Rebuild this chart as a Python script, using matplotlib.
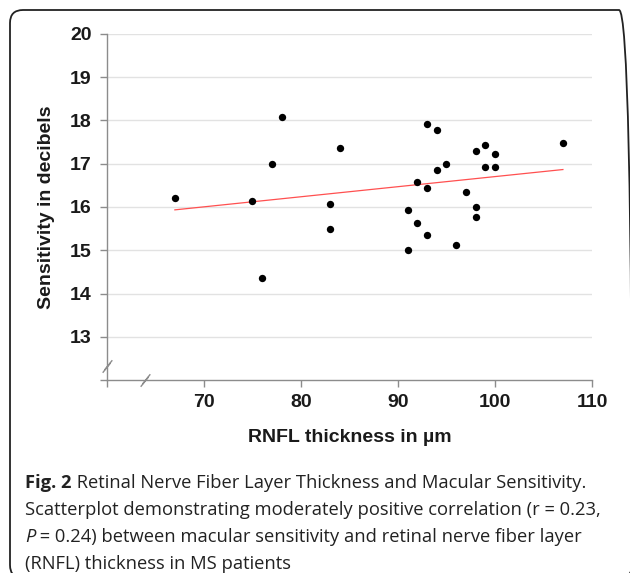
import matplotlib
matplotlib.use('Agg')
import matplotlib.pyplot as plt
import numpy as np
from matplotlib.patches import FancyBboxPatch
from matplotlib.path import Path

# RNFL thickness (um) and macular sensitivity (dB)
rnfl = [67, 75, 76, 77, 78, 83, 83, 84, 91, 91, 92, 92, 93, 93, 93, 94, 94,
        95, 96, 97, 98, 98, 98, 99, 99, 100, 100, 107]
sens = [16.21, 16.13, 14.36, 17.00, 18.07, 16.06, 15.49, 17.36, 15.92, 15.00,
        15.63, 16.57, 15.35, 16.43, 17.92, 17.78, 16.86, 17.00, 15.13, 16.35,
        16.00, 15.78, 17.29, 17.43, 16.93, 17.22, 16.93, 17.49]

xticks = [60, 70, 80, 90, 100, 110]
yticks = [12, 13, 14, 15, 16, 17, 18, 19, 20]

caption = [
    [("Fig. 2", "bold", "normal"),
     (" Retinal Nerve Fiber Layer Thickness and Macular Sensitivity.", "normal", "normal")],
    [("Scatterplot demonstrating moderately positive correlation (r = 0.23,", "normal", "normal")],
    [("P", "normal", "italic"),
     (" = 0.24) between macular sensitivity and retinal nerve fiber layer", "normal", "normal")],
    [("(RNFL) thickness in MS patients", "normal", "normal")],
]

fig = plt.figure(figsize=(6.3, 5.73), dpi=100)
ax = fig.add_axes([0.1698, 0.3368, 0.7699, 0.6039])

# regression line
x = np.array(rnfl)
y = np.array(sens)
k, b = np.polyfit(x, y, 1)
xl = np.array([x.min(), x.max()])
ax.plot(xl, k * xl + b, color='#ff5050', lw=0.9, zorder=2)

ax.scatter(rnfl, sens, s=28, color='black', zorder=3, linewidths=0)

ax.set_xlim(60, 110)
ax.set_ylim(12, 20)
ax.set_xticks(xticks)
ax.set_yticks(yticks)
ax.set_xticklabels(['' if v == 60 else str(v) for v in xticks])
ax.set_yticklabels(['' if v == 12 else str(v) for v in yticks])
for v in yticks[1:]:
    ax.axhline(v, color='#e2e2e2', lw=1.0, zorder=0)

for s in ['top', 'right']:
    ax.spines[s].set_visible(False)
for s in ['left', 'bottom']:
    ax.spines[s].set_color('#8c8c8c')
    ax.spines[s].set_linewidth(1.0)
ax.tick_params(axis='both', color='#8c8c8c', length=5, width=1.0,
               labelsize=14, labelcolor='#1a1a1a')
ax.tick_params(axis='y', pad=6)
ax.tick_params(axis='x', pad=5)
for lab in ax.get_xticklabels() + ax.get_yticklabels():
    lab.set_fontfamily('Liberation Sans')
    lab.set_fontweight('bold')

ax.set_xlabel('RNFL thickness in µm', fontsize=14, fontweight='bold',
              family='Liberation Sans', color='#1a1a1a', labelpad=13)
ax.set_ylabel('Sensitivity in decibels', fontsize=14, fontweight='bold',
              family='Liberation Sans', color='#1a1a1a', labelpad=11)

# axis break marks (double slash)
brk = Path([(-1.0, -1.3), (0.6, 0.7), (-0.6, -0.7), (1.0, 1.3)],
           [Path.MOVETO, Path.LINETO, Path.MOVETO, Path.LINETO])
ax.plot([60], [12.33], marker=brk, markersize=9, mfc='none', mec='#8c8c8c',
        mew=1.0, clip_on=False, zorder=4)
ax.plot([63.9], [12], marker=brk, markersize=9, mfc='none', mec='#8c8c8c',
        mew=1.0, clip_on=False, zorder=4)

# outer rounded frame (bottom edge runs just off the picture)
frame = FancyBboxPatch((0.1, -0.05), 6.22, 5.68, boxstyle='round,pad=0,rounding_size=0.13',
                       transform=fig.dpi_scale_trans, fill=False, ec='#222222', lw=1.3)
fig.patches.append(frame)

# caption, drawn piece by piece
fig.canvas.draw()
r = fig.canvas.get_renderer()
y0 = 1 - 488 / 573
for i, line in enumerate(caption):
    xp = 25 / 630
    yp = y0 - i * 26.9 / 573
    for txt, wt, st in line:
        t = fig.text(xp, yp, txt, fontsize=13.2, family='Open Sans', fontweight=wt,
                     fontstyle=st, color='#222222', va='baseline', ha='left')
        w = t.get_window_extent(renderer=r).width
        xp += w / fig.bbox.width

fig.savefig('out.png', dpi=100)
